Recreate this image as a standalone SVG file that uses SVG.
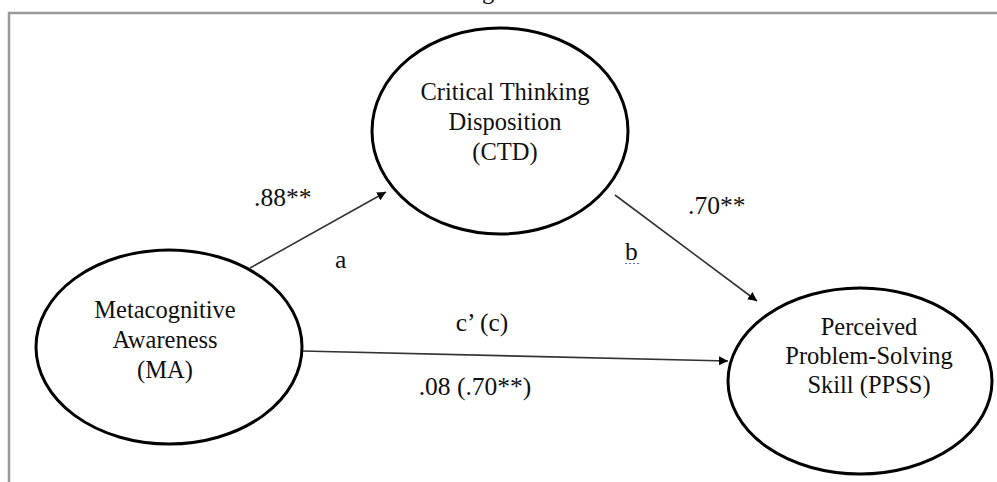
<svg xmlns="http://www.w3.org/2000/svg" width="997" height="482" viewBox="0 0 997 482">
<defs>
<style>
.node{fill:#fff;stroke:#000;stroke-width:3}
.t{font-family:"Liberation Serif","Times New Roman",serif;font-size:24.5px;fill:#111;text-anchor:middle}
.lbl{font-family:"Liberation Serif","Times New Roman",serif;font-size:25.5px;fill:#111}
.edge{stroke:#333;stroke-width:1.6;fill:none;marker-end:url(#ah)}
.frame{stroke:#999;stroke-width:2.5;fill:none}
</style>
<marker id="ah" viewBox="0 0 10 10" refX="10" refY="5" markerWidth="9" markerHeight="9" markerUnits="userSpaceOnUse" orient="auto">
<path d="M0,0 L10,5 L0,10 Z" fill="#000"/>
</marker>
</defs>
<rect width="997" height="482" fill="#fff"/>
<text class="t" x="488" y="-1">g</text>
<path class="frame" d="M9,482 L9,13 L997,13"/>
<g id="connectors">
<line class="edge" x1="250" y1="268" x2="386" y2="192"/>
<line class="edge" x1="615" y1="195" x2="757" y2="301"/>
<line class="edge" x1="302" y1="351" x2="728" y2="361"/>
<text class="lbl" x="254" y="206">.88**</text>
<text class="lbl" x="335" y="268">a</text>
<text class="lbl" x="688" y="214">.70**</text>
<text class="lbl" x="625" y="260">b</text>
<line x1="625" y1="263.5" x2="639" y2="263.5" stroke="#5b6bff" stroke-width="1.2" stroke-dasharray="2,2"/>
<text class="lbl" x="482" y="331" text-anchor="middle">c’ (c)</text>
<text class="lbl" x="475" y="395" text-anchor="middle">.08 (.70**)</text>
</g>
<g id="node-ctd">
<ellipse class="node" cx="500" cy="131" rx="128" ry="103"/>
<text class="t" x="505" y="100">Critical Thinking</text>
<text class="t" x="505" y="130">Disposition</text>
<text class="t" x="505" y="160">(CTD)</text>
</g>
<g id="node-ma">
<ellipse class="node" cx="169" cy="347" rx="133" ry="97"/>
<text class="t" x="165" y="318">Metacognitive</text>
<text class="t" x="165" y="348">Awareness</text>
<text class="t" x="165" y="378">(MA)</text>
</g>
<g id="node-ppss">
<ellipse class="node" cx="860" cy="381" rx="132" ry="93"/>
<text class="t" x="869" y="335">Perceived</text>
<text class="t" x="869" y="364">Problem-Solving</text>
<text class="t" x="869" y="393">Skill (PPSS)</text>
</g>
</svg>
